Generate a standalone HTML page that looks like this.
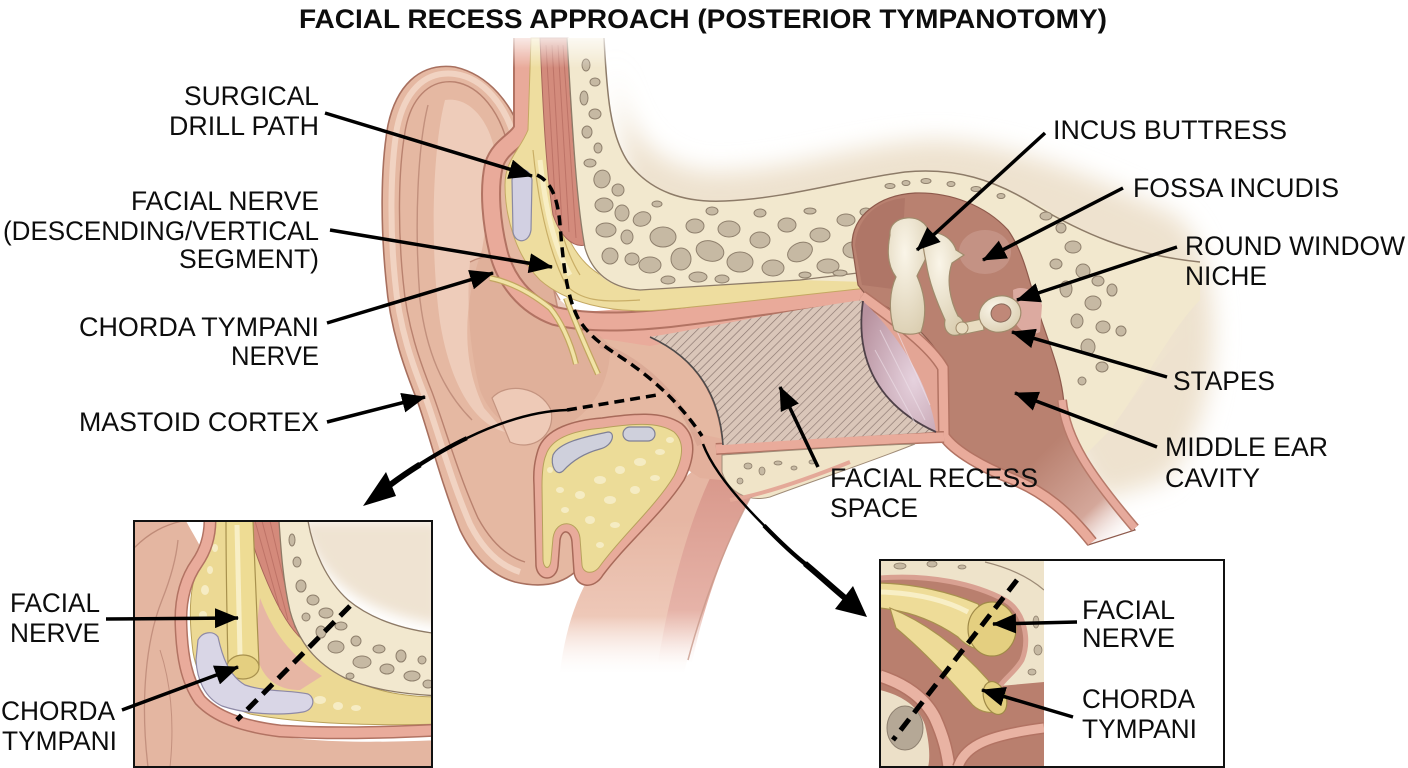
<!DOCTYPE html>
<html><head><meta charset="utf-8">
<style>
html,body{margin:0;padding:0;background:#fff;}
svg{display:block;}
text{font-family:"Liberation Sans",Arial,sans-serif;fill:#0d0d0d;font-size:26.5px;}
</style></head>
<body>
<svg width="1408" height="768" viewBox="0 0 1408 768" xmlns="http://www.w3.org/2000/svg">
<defs>
  <filter id="blur12" x="-20%" y="-20%" width="140%" height="140%"><feGaussianBlur stdDeviation="12"/></filter>
  <filter id="blur6" x="-20%" y="-20%" width="140%" height="140%"><feGaussianBlur stdDeviation="6"/></filter>
  <pattern id="hatch" width="6" height="6" patternUnits="userSpaceOnUse" patternTransform="rotate(45)">
    <rect width="6" height="6" fill="#dac6b9"/>
    <line x1="0" y1="0" x2="0" y2="6" stroke="#8a766f" stroke-width="1.3"/>
  </pattern>
  <marker id="ah" markerUnits="userSpaceOnUse" markerWidth="24" markerHeight="20" refX="23" refY="10" orient="auto">
    <path d="M0,0 L24,10 L0,20 Z" fill="#000"/>
  </marker>
  <linearGradient id="neckGrad" gradientUnits="userSpaceOnUse" x1="0" y1="520" x2="0" y2="680">
    <stop offset="0" stop-color="#e6b6a3"/>
    <stop offset="0.6" stop-color="#eec8b8"/>
    <stop offset="1" stop-color="#ffffff" stop-opacity="0"/>
  </linearGradient>
  <linearGradient id="muscGrad" gradientUnits="userSpaceOnUse" x1="0" y1="470" x2="0" y2="670">
    <stop offset="0" stop-color="#d8978a"/>
    <stop offset="0.7" stop-color="#e6b3a8"/>
    <stop offset="1" stop-color="#ffffff" stop-opacity="0"/>
  </linearGradient>
  <linearGradient id="cavGrad" gradientUnits="userSpaceOnUse" x1="1040" y1="455" x2="1125" y2="545">
    <stop offset="0" stop-color="#b98170"/>
    <stop offset="0.6" stop-color="#d4a79a"/>
    <stop offset="1" stop-color="#ffffff" stop-opacity="0"/>
  </linearGradient>
  <linearGradient id="boneGrad" gradientUnits="userSpaceOnUse" x1="1050" y1="0" x2="1200" y2="0">
    <stop offset="0" stop-color="#f2e8ce"/>
    <stop offset="1" stop-color="#f2e8ce" stop-opacity="0"/>
  </linearGradient>
  <linearGradient id="topFade" x1="0" y1="0" x2="0" y2="1">
    <stop offset="0" stop-color="#fff" stop-opacity="1"/>
    <stop offset="1" stop-color="#fff" stop-opacity="0"/>
  </linearGradient>
  <radialGradient id="ossGrad" cx="0.4" cy="0.3" r="0.8">
    <stop offset="0" stop-color="#faf5e8"/>
    <stop offset="1" stop-color="#d9ccae"/>
  </radialGradient>
  <radialGradient id="tmGrad" cx="0.7" cy="0.6" r="0.8">
    <stop offset="0" stop-color="#e6d2de"/>
    <stop offset="1" stop-color="#b8929f"/>
  </radialGradient>
  <clipPath id="clipL"><rect x="134" y="521" width="298" height="246"/></clipPath>
  <clipPath id="clipR"><rect x="880" y="560" width="164" height="207"/></clipPath>
</defs>

<rect width="1408" height="768" fill="#fff"/>

<!-- background glow -->
<path d="M612,45 C620,130 650,165 710,172 C790,172 850,145 930,140 C1010,140 1100,180 1175,215 C1230,260 1225,420 1165,480 L1100,500 L1000,320 L640,300 Z" fill="#eee2cf" filter="url(#blur12)"/>

<!-- neck band -->
<path d="M592,572 C625,530 665,495 705,460 L765,472 C733,524 706,592 684,672 L560,672 C565,632 575,600 592,572 Z" fill="url(#neckGrad)"/>
<path d="M712,474 L758,482 C730,534 707,592 692,662 L658,662 C670,592 688,524 712,474 Z" fill="url(#muscGrad)"/>
<path d="M765,472 C733,524 706,592 688,660" fill="none" stroke="#c8998a" stroke-width="1.5" opacity="0.8"/>

<!-- pinna / skin base -->
<path d="M523,137 C512,105 490,75 455,67 C418,62 396,88 388,125 C380,170 381,230 386,280 C390,330 405,370 417,400 C428,430 440,480 460,530 C472,555 490,575 515,582 C540,588 560,585 575,572 L610,530 L690,455 L723,447 C720,400 700,360 650,336 L560,320 Z" fill="#e5b8a2" stroke="#a8705f" stroke-width="1.6"/>
<!-- extra skin fills to close gaps -->
<path d="M672,428 L728,440 L775,468 L762,484 L700,478 L676,462 Z" fill="#e3b09c"/>
<path d="M560,314 L864,289 L868,304 L650,346 L598,338 Z" fill="#e9ab9b"/>
<!-- helix highlight -->
<path d="M515,140 C506,106 484,78 455,74 C423,70 404,94 397,128 C390,170 390,230 395,280 C399,328 413,366 425,396 C437,428 450,478 470,524 C482,548 498,565 520,572" fill="none" stroke="#f1d3c2" stroke-width="6"/>
<path d="M508,146 C500,112 480,86 455,82 C428,79 410,100 405,132 C398,172 398,230 403,280 C407,326 420,362 432,392 C444,424 458,474 478,518 C490,540 505,556 525,562" fill="none" stroke="#b9826f" stroke-width="1.4"/>
<!-- antihelix / concha -->
<path d="M445,100 C470,96 492,122 496,160 L482,250 C464,300 460,360 484,408 L505,432 C474,424 450,384 440,322 C430,252 432,150 445,100 Z" fill="#f0d3c1" opacity="0.75"/>
<path d="M428,105 C418,145 414,222 420,300 C426,350 442,390 472,420" fill="none" stroke="#c2907d" stroke-width="1.4"/>
<path d="M470,262 C500,246 540,262 560,300 L610,345 C612,385 585,425 548,432 C512,437 490,416 480,390 C470,352 466,302 470,262 Z" fill="#dca993" opacity="0.55"/>
<path d="M470,262 C500,246 540,262 560,300" fill="none" stroke="#c08b78" stroke-width="1.3"/>
<path d="M492,398 C506,382 540,386 551,410 C556,436 532,452 510,442 Z" fill="#eecab7" stroke="#c49480" stroke-width="1.2"/>
<path d="M600,345 C640,360 680,395 700,445" fill="none" stroke="#d3a08d" stroke-width="6" opacity="0.6"/>

<!-- pink skin band -->
<path d="M523,38 L523,128 C520,140 500,145 494,165 C488,190 492,225 498,250 C505,280 525,305 555,316 C590,324 630,322 670,318 C740,310 800,300 862,293" fill="none" stroke="#b27363" stroke-width="20"/>
<path d="M523,38 L523,128 C520,140 500,145 494,165 C488,190 492,225 498,250 C505,280 525,305 555,316 C590,324 630,322 670,318 C740,310 800,300 862,293" fill="none" stroke="#e9aa9a" stroke-width="16"/>

<!-- yellow band -->
<path d="M531,38 L542,38 C545,110 550,180 565,230 C580,268 605,283 640,288 L866,268 L868,288 C800,295 720,305 660,310 C610,314 565,302 540,280 C515,255 505,215 505,185 C505,160 520,150 528,130 Z" fill="#eedd9f" stroke="#c4a862" stroke-width="1"/>
<path d="M533,150 C538,200 548,250 566,285 C580,300 600,303 640,300" fill="none" stroke="#c9ae66" stroke-width="1.2"/>
<path d="M548,150 C553,200 561,245 580,275" fill="none" stroke="#c9ae66" stroke-width="1.2"/>
<path d="M540,160 C545,205 553,245 570,275" fill="none" stroke="#f8eec4" stroke-width="5"/>
<!-- lilac blob -->
<path d="M512,180 C514,166 530,166 532,180 L531,230 C529,244 515,244 513,232 Z" fill="#d2d0e2" stroke="#8b89a2" stroke-width="1.2"/>
<!-- chorda strands -->
<path d="M490,278 C510,282 530,292 550,308 C560,320 570,340 576,364" fill="none" stroke="#c2a660" stroke-width="6"/>
<path d="M490,278 C510,282 530,292 550,308 C560,320 570,340 576,364" fill="none" stroke="#f1e3a6" stroke-width="3.5"/>
<path d="M566,298 C574,320 585,345 598,374" fill="none" stroke="#c2a660" stroke-width="6"/>
<path d="M566,298 C574,320 585,345 598,374" fill="none" stroke="#f1e3a6" stroke-width="3.5"/>

<!-- muscle -->
<path d="M540,38 L568,38 C570,110 575,180 585,245 C572,248 560,235 553,215 C546,170 543,110 540,38 Z" fill="#d38b7c" stroke="#a8665a" stroke-width="1"/>
<g stroke="#b56a5f" stroke-width="1" opacity="0.7">
  <line x1="546" y1="45" x2="556" y2="215"/>
  <line x1="552" y1="45" x2="562" y2="225"/>
  <line x1="558" y1="45" x2="569" y2="232"/>
  <line x1="563" y1="45" x2="576" y2="238"/>
</g>

<!-- bone -->
<path d="M567,38 L604,38 C607,95 610,135 628,162 C650,192 685,203 725,201 C790,198 845,180 905,172 C955,167 995,180 1035,205 C1080,232 1130,255 1200,262 L1200,300 C1170,330 1140,390 1110,430 L1085,455 L1060,420 L980,460 L900,300 L866,282 L800,280 L720,285 L640,290 C610,288 592,275 585,248 C576,200 572,120 567,38 Z" fill="#f2e8ce"/>
<path d="M1040,205 C1080,232 1130,255 1210,262 L1210,320 C1170,340 1140,390 1110,430 L1085,455 L1050,300 Z" fill="url(#boneGrad)"/>
<path d="M604,38 C607,95 610,135 628,162 C650,192 685,203 725,201 C790,198 845,180 905,172 C955,167 995,180 1035,205 C1080,232 1130,255 1200,262" fill="none" stroke="#8d7b68" stroke-width="1.5"/>
<path d="M567,38 C572,120 576,200 585,248 C592,272 610,288 640,290 L720,285 L800,280 L866,272" fill="none" stroke="#8d7b68" stroke-width="1.3"/>
<g fill="#c6b9a3" stroke="#8f806d" stroke-width="1">
  <ellipse cx="586" cy="65" rx="4" ry="6"/><ellipse cx="595" cy="82" rx="5" ry="4"/><ellipse cx="584" cy="98" rx="4" ry="7"/>
  <ellipse cx="595" cy="114" rx="6" ry="5"/><ellipse cx="587" cy="132" rx="5" ry="6"/><ellipse cx="598" cy="148" rx="4" ry="5"/>
  <ellipse cx="590" cy="163" rx="6" ry="4"/><ellipse cx="602" cy="179" rx="8" ry="9" transform="rotate(20 602 179)"/>
  <ellipse cx="618" cy="190" rx="6" ry="6"/><ellipse cx="604" cy="205" rx="9" ry="7"/><ellipse cx="622" cy="213" rx="7" ry="8"/>
  <ellipse cx="606" cy="230" rx="10" ry="7"/><ellipse cx="627" cy="237" rx="6" ry="7"/><ellipse cx="610" cy="256" rx="8" ry="8"/>
  <ellipse cx="632" cy="259" rx="7" ry="6"/><ellipse cx="642" cy="219" rx="9" ry="7" transform="rotate(-20 642 219)"/>
  <ellipse cx="663" cy="237" rx="13" ry="10"/><ellipse cx="650" cy="265" rx="11" ry="8"/><ellipse cx="681" cy="259" rx="10" ry="11"/>
  <ellipse cx="695" cy="226" rx="9" ry="7"/><ellipse cx="710" cy="251" rx="14" ry="10" transform="rotate(15 710 251)"/>
  <ellipse cx="698" cy="277" rx="9" ry="5"/><ellipse cx="729" cy="229" rx="11" ry="8"/><ellipse cx="740" cy="262" rx="13" ry="10"/>
  <ellipse cx="760" cy="240" rx="10" ry="8"/><ellipse cx="773" cy="268" rx="11" ry="8"/><ellipse cx="787" cy="225" rx="9" ry="7"/>
  <ellipse cx="800" cy="252" rx="13" ry="9" transform="rotate(-25 800 252)"/><ellipse cx="820" cy="235" rx="10" ry="7"/>
  <ellipse cx="828" cy="266" rx="11" ry="7"/><ellipse cx="846" cy="220" rx="9" ry="6"/><ellipse cx="853" cy="250" rx="10" ry="8"/>
  <ellipse cx="870" cy="236" rx="7" ry="6"/><ellipse cx="866" cy="212" rx="6" ry="4"/><ellipse cx="760" cy="213" rx="6" ry="4"/>
  <ellipse cx="712" cy="211" rx="6" ry="4"/><ellipse cx="668" cy="280" rx="7" ry="4"/><ellipse cx="722" cy="279" rx="7" ry="4"/>
  <ellipse cx="805" cy="275" rx="6" ry="3"/><ellipse cx="840" cy="273" rx="7" ry="3"/><ellipse cx="880" cy="224" rx="5" ry="4"/>
  <ellipse cx="657" cy="204" rx="5" ry="3"/><ellipse cx="810" cy="211" rx="6" ry="3"/>
  <ellipse cx="890" cy="186" rx="5" ry="2.5"/><ellipse cx="906" cy="183" rx="4" ry="2.5"/><ellipse cx="926" cy="181" rx="5" ry="2.5"/>
  <ellipse cx="951" cy="184" rx="4" ry="2.5"/><ellipse cx="976" cy="189" rx="5" ry="2.5"/><ellipse cx="1001" cy="196" rx="4" ry="2.5"/>
  <ellipse cx="1046" cy="216" rx="6" ry="4"/><ellipse cx="1061" cy="228" rx="5" ry="5"/><ellipse cx="1073" cy="247" rx="8" ry="6"/>
  <ellipse cx="1056" cy="264" rx="6" ry="5"/><ellipse cx="1083" cy="271" rx="7" ry="7"/><ellipse cx="1066" cy="289" rx="6" ry="8"/>
  <ellipse cx="1093" cy="303" rx="8" ry="7"/><ellipse cx="1103" cy="327" rx="7" ry="6"/><ellipse cx="1077" cy="321" rx="6" ry="7"/>
  <ellipse cx="1088" cy="347" rx="7" ry="8"/><ellipse cx="1102" cy="367" rx="6" ry="5"/><ellipse cx="1112" cy="290" rx="5" ry="6"/>
  <ellipse cx="1121" cy="331" rx="5" ry="5"/><ellipse cx="1082" cy="381" rx="4" ry="4"/><ellipse cx="1098" cy="281" rx="6" ry="5"/>
</g>
<rect x="470" y="28" width="180" height="40" fill="url(#topFade)"/>

<!-- middle ear cavity -->
<path d="M852,245 C852,215 880,195 915,193 C950,192 985,205 1008,230 C1022,250 1028,275 1035,300 C1045,335 1062,370 1064,405 C1066,435 1085,465 1110,500 L1135,530 L1088,545 C1060,505 1040,485 1005,476 C975,468 955,455 948,435 L945,365 C930,335 900,310 870,300 L858,285 Z" fill="url(#cavGrad)" stroke="#8e5a4c" stroke-width="1.2"/>
<path d="M855,245 C858,215 880,200 905,198 L900,290 L862,285 Z" fill="#a86f60" opacity="0.6"/>
<ellipse cx="985" cy="252" rx="26" ry="22" fill="#c99a8d" opacity="0.7"/>
<path d="M1013,290 C1024,284 1038,292 1042,305 L1040,332 C1030,337 1019,332 1014,320 Z" fill="#dcaaa0"/>
<path d="M1062,400 C1066,440 1090,475 1135,528" fill="none" stroke="#b77a6a" stroke-width="10"/>
<path d="M1062,400 C1066,440 1090,475 1135,528" fill="none" stroke="#e6aa9c" stroke-width="7"/>

<!-- fill between TM and pink band -->
<path d="M860,294 C895,318 930,345 945,368 L946,438 L930,436 C905,410 890,360 860,300 Z" fill="#e3a595"/>
<!-- pink bands around TM/floor -->
<path d="M862,296 C895,320 930,345 943,368 L944,436 C955,452 985,468 1010,478 C1045,492 1068,512 1092,542" fill="none" stroke="#b27363" stroke-width="12"/>
<path d="M862,296 C895,320 930,345 943,368 L944,436 C955,452 985,468 1010,478 C1045,492 1068,512 1092,542" fill="none" stroke="#e9ab9b" stroke-width="9"/>
<path d="M716,449 C800,444 880,439 944,437" fill="none" stroke="#b27363" stroke-width="12"/>
<path d="M716,449 C800,444 880,439 944,437" fill="none" stroke="#e9ab9b" stroke-width="9"/>

<!-- hatched facial recess -->
<path d="M650,337 C720,325 790,310 862,300 C858,350 870,400 935,432 C870,436 790,440 723,445 C720,400 700,360 650,337 Z" fill="url(#hatch)"/>
<path d="M650,337 C700,360 720,400 723,445" fill="none" stroke="#4e4a4a" stroke-width="1.6"/>
<!-- tympanic membrane -->
<path d="M863,301 C856,350 870,402 936,432 C931,392 906,342 863,301 Z" fill="url(#tmGrad)"/>
<path d="M863,301 C856,350 870,402 936,432" fill="none" stroke="#4f4148" stroke-width="1.8"/>
<path d="M880,330 L925,420 M875,350 L915,423 M892,320 L930,405" stroke="#efe2ea" stroke-width="1" opacity="0.6"/>

<!-- ossicles -->
<path d="M890,235 C888,214 925,211 929,233 C933,252 922,264 917,276 C924,292 928,312 921,332 C912,336 900,334 894,330 C888,310 890,290 896,277 C887,265 887,250 890,235 Z" fill="url(#ossGrad)" stroke="#a08b6c" stroke-width="1.2"/>
<path d="M924,236 C934,228 952,236 956,250 L964,255 L952,263 C946,280 950,300 958,316 C966,320 966,332 958,335 C949,337 943,330 945,320 C936,300 929,282 926,262 C924,252 922,244 924,236 Z" fill="url(#ossGrad)" stroke="#a08b6c" stroke-width="1.2"/>
<path d="M958,324 L982,319 L984,330 L960,335 Z" fill="#e8dcc0" stroke="#a08b6c" stroke-width="1"/>
<circle cx="962" cy="328" r="6" fill="#e8dcc0" stroke="#a08b6c" stroke-width="1"/>
<ellipse cx="1000" cy="314" rx="21" ry="18" transform="rotate(-15 1000 314)" fill="url(#ossGrad)" stroke="#a08b6c" stroke-width="1.2"/>
<ellipse cx="1001" cy="313" rx="10" ry="9" transform="rotate(-15 1001 313)" fill="#c08878" stroke="#8a6a5a" stroke-width="1"/>

<!-- canal floor bone tongue -->
<path d="M722,455 C780,451 850,446 915,444 C870,462 810,482 770,497 C745,503 728,490 722,472 Z" fill="#f0e4c8" stroke="#a08c78" stroke-width="1"/>
<g fill="#c6b9a3" stroke="#8f806d" stroke-width="0.8">
  <ellipse cx="748" cy="466" rx="4" ry="3"/><ellipse cx="762" cy="471" rx="3" ry="4"/><ellipse cx="778" cy="463" rx="4" ry="2"/>
  <ellipse cx="740" cy="481" rx="3" ry="3"/><ellipse cx="794" cy="468" rx="3" ry="2"/><ellipse cx="812" cy="462" rx="3" ry="2"/>
</g>
<path d="M730,500 C760,495 800,482 850,462" fill="none" stroke="#e4a898" stroke-width="4"/>

<!-- mastoid yellow region -->
<path d="M538,450 C545,428 575,420 602,418 C632,414 662,410 682,424 C698,438 694,460 684,480 C664,512 625,545 603,575 C594,590 576,588 574,572 L572,542 C571,530 562,528 560,540 L558,566 C556,582 538,582 536,566 L534,485 C533,470 535,460 538,450 Z" fill="#e8ab9b" stroke="#a86a5a" stroke-width="1.5"/>
<path d="M546,455 C552,436 578,430 603,428 C630,424 658,421 674,432 C686,443 682,460 674,476 C656,506 620,538 600,566 C594,575 583,574 582,565 L580,538 C578,520 556,518 553,538 L551,560 C550,570 544,570 543,560 L542,486 C542,472 543,462 546,455 Z" fill="#ecdc98" stroke="#b7a15c" stroke-width="1"/>
<g fill="#f7eec8" opacity="0.9">
  <ellipse cx="600" cy="480" rx="6" ry="4"/><ellipse cx="620" cy="470" rx="5" ry="4"/><ellipse cx="640" cy="462" rx="6" ry="4"/>
  <ellipse cx="660" cy="452" rx="5" ry="3"/><ellipse cx="580" cy="495" rx="5" ry="4"/><ellipse cx="610" cy="500" rx="6" ry="4"/>
  <ellipse cx="635" cy="490" rx="5" ry="4"/><ellipse cx="655" cy="478" rx="5" ry="3"/><ellipse cx="560" cy="490" rx="4" ry="3"/>
  <ellipse cx="590" cy="520" rx="5" ry="4"/><ellipse cx="615" cy="525" rx="5" ry="3"/><ellipse cx="565" cy="510" rx="4" ry="3"/>
  <ellipse cx="600" cy="545" rx="4" ry="3"/><ellipse cx="550" cy="470" rx="3" ry="3"/><ellipse cx="670" cy="440" rx="4" ry="3"/>
</g>
<path d="M553,455 C560,441 590,436 608,432 C616,432 613,446 600,449 C585,453 572,461 563,471 C556,477 550,465 553,455 Z" fill="#cfd0dc" stroke="#7f8096" stroke-width="1.2"/>
<rect x="623" y="427" width="32" height="14" rx="7" fill="#cfd0dc" stroke="#7f8096" stroke-width="1.2"/>

<!-- dashed drill path -->
<path d="M537,175 C552,182 558,200 560,225 C563,260 566,295 578,318 C592,342 615,352 635,367 C660,385 685,410 702,436" fill="none" stroke="#000" stroke-width="3.5" stroke-dasharray="10 6"/>
<path d="M567,410 L657,395" fill="none" stroke="#000" stroke-width="3.5" stroke-dasharray="10 6"/>

<!-- curved arrows -->
<path d="M567,410 C533.5,411 498.25,423 466.9,438.1" fill="none" stroke="#000" stroke-width="2.5"/>
<path d="M466.9,438.1 C448,447 430,458 416,467" fill="none" stroke="#000" stroke-width="4.2"/>
<path d="M420,464.5 C408,472 398,479 390,485" fill="none" stroke="#000" stroke-width="6"/>
<path d="M363,506 L386,472 L396,496 Z" fill="#000"/>
<path d="M703,444 C712.5,469.5 738.4,500 766.7,528.1" fill="none" stroke="#000" stroke-width="2.5"/>
<path d="M764,525.5 C780,542 795,556 808,566" fill="none" stroke="#000" stroke-width="4.2"/>
<path d="M805,563.5 C820,576 833,588 845,598" fill="none" stroke="#000" stroke-width="6"/>
<path d="M867,617 L835,609 L853,586 Z" fill="#000"/>

<!-- label arrows main -->
<g stroke="#000" stroke-width="3.5" fill="none" marker-end="url(#ah)">
  <line x1="325" y1="113" x2="532" y2="176"/>
  <line x1="330" y1="230" x2="552" y2="267"/>
  <line x1="327" y1="323" x2="493" y2="273"/>
  <line x1="327" y1="422" x2="425" y2="397"/>
  <line x1="1045" y1="133" x2="917" y2="250"/>
  <line x1="1123" y1="188" x2="983" y2="260"/>
  <line x1="1177" y1="247" x2="1017" y2="300"/>
  <line x1="1167" y1="377" x2="1012" y2="332"/>
  <line x1="1157" y1="447" x2="1015" y2="393"/>
  <line x1="818" y1="467" x2="780" y2="387"/>
</g>

<!-- LEFT INSET -->
<g clip-path="url(#clipL)">
  <rect x="134" y="521" width="298" height="246" fill="#fff"/>
  <path d="M300,521 C320,580 360,612 440,625 L440,521 Z" fill="#efe3d2" filter="url(#blur6)"/>
  <!-- ear skin left -->
  <path d="M134,521 L186,521 C192,532 200,545 205,556 C190,572 180,592 180,620 C180,660 190,690 215,715 C250,740 330,745 440,740 L440,770 L134,770 Z" fill="#e4b6a1"/>
  <path d="M134,548 C150,532 165,525 182,521" fill="none" stroke="#bf8b78" stroke-width="1.3"/>
  <path d="M148,767 C140,700 146,640 162,600 C170,580 176,560 178,540" fill="none" stroke="#c3907e" stroke-width="1.3"/>
  <path d="M160,650 C170,680 175,720 170,767" fill="none" stroke="#c3907e" stroke-width="1"/>
  <!-- yellow region -->
  <path d="M214,521 L282,521 C287,580 300,630 330,665 C360,690 400,697 440,697 L440,724 C380,726 300,724 250,714 C215,702 198,682 193,652 C188,612 190,582 200,565 C210,552 214,536 214,521 Z" fill="#ecd994" stroke="#b9a05a" stroke-width="1"/>
  <g fill="#f6ecc4">
    <ellipse cx="205" cy="590" rx="4" ry="5"/><ellipse cx="203" cy="615" rx="4" ry="4"/><ellipse cx="210" cy="570" rx="3" ry="4"/>
    <ellipse cx="320" cy="700" rx="6" ry="4"/><ellipse cx="338" cy="706" rx="5" ry="4"/><ellipse cx="356" cy="708" rx="5" ry="3"/>
    <ellipse cx="215" cy="548" rx="3" ry="4"/>
  </g>
  <!-- pink skin band -->
  <path d="M210,520 C210,535 206,550 197,563 C185,580 180,600 181,625 C182,655 186,680 200,700 C215,716 240,726 280,731 C330,734 380,733 440,730" fill="none" stroke="#b27363" stroke-width="13"/>
  <path d="M210,520 C210,535 206,550 197,563 C185,580 180,600 181,625 C182,655 186,680 200,700 C215,716 240,726 280,731 C330,734 380,733 440,730" fill="none" stroke="#e9ab9b" stroke-width="10"/>
  <!-- pink inner region -->
  <path d="M260,598 C272,630 290,656 322,676 L300,690 C270,690 256,670 255,640 Z" fill="#e7b6a4"/>
  <!-- muscle -->
  <path d="M247,521 L279,521 C283,570 291,610 306,642 C290,632 275,602 263,572 C255,552 250,536 247,521 Z" fill="#d48a7b" stroke="#a8665a" stroke-width="1"/>
  <g stroke="#b56a5f" stroke-width="1" opacity="0.7">
    <line x1="255" y1="521" x2="280" y2="610"/><line x1="262" y1="521" x2="288" y2="620"/><line x1="270" y1="521" x2="295" y2="628"/>
  </g>
  <!-- bone -->
  <path d="M279,521 L308,521 C313,550 326,580 348,600 C372,620 405,630 440,634 L440,696 C400,694 370,689 345,678 C315,663 298,641 290,611 C283,581 281,551 279,521 Z" fill="#f2e8cf" stroke="#8d7a66" stroke-width="1.3"/>
  <g fill="#c6b9a3" stroke="#8f806d" stroke-width="1">
    <ellipse cx="292" cy="540" rx="3" ry="6"/><ellipse cx="297" cy="562" rx="4" ry="5"/><ellipse cx="301" cy="586" rx="5" ry="6"/>
    <ellipse cx="313" cy="600" rx="6" ry="5"/><ellipse cx="306" cy="617" rx="4" ry="4"/><ellipse cx="326" cy="613" rx="7" ry="5"/>
    <ellipse cx="321" cy="632" rx="5" ry="6"/><ellipse cx="341" cy="626" rx="6" ry="4"/><ellipse cx="336" cy="647" rx="8" ry="6"/>
    <ellipse cx="356" cy="641" rx="5" ry="5"/><ellipse cx="362" cy="662" rx="9" ry="6"/><ellipse cx="379" cy="649" rx="6" ry="4"/>
    <ellipse cx="387" cy="669" rx="7" ry="5"/><ellipse cx="401" cy="656" rx="5" ry="6"/><ellipse cx="412" cy="676" rx="8" ry="5"/>
    <ellipse cx="422" cy="660" rx="4" ry="4"/><ellipse cx="428" cy="684" rx="5" ry="4"/><ellipse cx="350" cy="676" rx="4" ry="3"/>
  </g>
  <!-- facial nerve -->
  <path d="M226,521 L253,521 C255,570 257,620 259,665 L228,666 C227,620 226,570 226,521 Z" fill="#eedc94" stroke="#a8914e" stroke-width="1.2"/>
  <path d="M237,525 L240,655" stroke="#f8efc6" stroke-width="5"/>
  <ellipse cx="243" cy="667" rx="16" ry="12" fill="#e4cf80" stroke="#a8914e" stroke-width="1.2"/>
  <!-- lilac cavity -->
  <path d="M198,640 C202,632 213,630 218,637 C222,655 228,675 245,685 C265,692 290,690 308,694 C316,698 314,710 303,712 C280,716 245,714 222,706 C205,698 197,680 196,660 Z" fill="#d9d6e6" stroke="#8e89a6" stroke-width="1.2"/>
  <path d="M350,606 L237,720" stroke="#000" stroke-width="5" stroke-dasharray="14 8"/>
</g>
<rect x="134" y="521" width="298" height="246" fill="none" stroke="#111" stroke-width="2"/>
<g stroke="#000" stroke-width="3.5" fill="none" marker-end="url(#ah)">
  <line x1="106" y1="619" x2="238" y2="618"/>
  <line x1="122" y1="710" x2="238" y2="667"/>
</g>

<!-- RIGHT INSET -->
<rect x="880" y="560" width="344" height="207" fill="#fff"/>
<g clip-path="url(#clipR)">
  <rect x="880" y="560" width="164" height="207" fill="#eee3ca"/>
  <path d="M985,562 C1010,568 1030,578 1044,590" fill="none" stroke="#9c8a76" stroke-width="1.2"/>
  <g fill="#c6b9a3" stroke="#8f806d" stroke-width="0.8">
    <ellipse cx="900" cy="566" rx="6" ry="3"/><ellipse cx="932" cy="564" rx="5" ry="3"/><ellipse cx="962" cy="567" rx="4" ry="2"/>
    <ellipse cx="1036" cy="622" rx="3" ry="6"/><ellipse cx="1038" cy="650" rx="4" ry="5"/><ellipse cx="1032" cy="672" rx="4" ry="3"/>
  </g>
  <path d="M880,578 C930,574 975,584 1005,600 C1025,612 1030,640 1022,660 C1015,672 1005,678 1000,686 L1044,682 L1044,767 L880,767 Z" fill="#b97f6e"/>
  <path d="M880,578 C930,574 975,584 1005,600 C1025,612 1030,640 1022,660 C1015,672 1005,678 1000,686" fill="none" stroke="#d9a192" stroke-width="5"/>
  <!-- lower left pink bands and bone -->
  <path d="M880,690 C900,695 918,705 925,725 C930,745 930,760 928,767 L880,767 Z" fill="#ece0c8"/>
  <ellipse cx="905" cy="728" rx="18" ry="22" fill="#b5a896" stroke="#8e8070" stroke-width="1"/>
  <path d="M880,676 C905,684 925,698 935,718 C944,738 947,752 949,767" fill="none" stroke="#b27363" stroke-width="14"/>
  <path d="M880,676 C905,684 925,698 935,718 C944,738 947,752 949,767" fill="none" stroke="#e9b3a3" stroke-width="11"/>
  <path d="M958,767 C965,745 990,735 1044,728" fill="none" stroke="#b27363" stroke-width="12"/>
  <path d="M958,767 C965,745 990,735 1044,728" fill="none" stroke="#e9b3a3" stroke-width="9"/>
  <!-- facial nerve -->
  <path d="M880,583 C915,584 950,592 978,604 L1000,642 C985,654 970,650 958,637 C935,621 910,611 880,608 Z" fill="#eedc98" stroke="#a8914e" stroke-width="1.2"/>
  <path d="M880,592 C915,593 945,600 968,612" fill="none" stroke="#f8efc6" stroke-width="5"/>
  <ellipse cx="992" cy="629" rx="24" ry="27" fill="#e4cf80" stroke="#a08a48" stroke-width="1.2"/>
  <!-- chorda -->
  <path d="M890,608 C925,622 960,648 988,680 L1002,710 C988,716 976,710 970,702 C950,680 925,652 896,628 Z" fill="#eedc98" stroke="#a8914e" stroke-width="1.2"/>
  <ellipse cx="995" cy="698" rx="11" ry="17" transform="rotate(-20 995 698)" fill="#e4cf80" stroke="#a08a48" stroke-width="1.2"/>
  <path d="M1017,580 L893,740" stroke="#000" stroke-width="5" stroke-dasharray="14 8"/>
</g>
<rect x="880" y="560" width="344" height="207" fill="none" stroke="#111" stroke-width="2"/>
<g stroke="#000" stroke-width="3.5" fill="none" marker-end="url(#ah)">
  <line x1="1077" y1="622" x2="993" y2="624"/>
  <line x1="1073" y1="717" x2="982" y2="690"/>
</g>

<!-- TEXT -->
<text x="703" y="28" text-anchor="middle" font-weight="bold" style="font-size:27px" textLength="808" lengthAdjust="spacingAndGlyphs">FACIAL RECESS APPROACH (POSTERIOR TYMPANOTOMY)</text>

<g text-anchor="end">
  <text x="319" y="105" textLength="135" lengthAdjust="spacingAndGlyphs">SURGICAL</text>
  <text x="319" y="135" textLength="150" lengthAdjust="spacingAndGlyphs">DRILL PATH</text>
  <text x="319" y="210" textLength="188" lengthAdjust="spacingAndGlyphs">FACIAL NERVE</text>
  <text x="319" y="240" textLength="316" lengthAdjust="spacingAndGlyphs">(DESCENDING/VERTICAL</text>
  <text x="319" y="268" textLength="140" lengthAdjust="spacingAndGlyphs">SEGMENT)</text>
  <text x="319" y="336" textLength="240" lengthAdjust="spacingAndGlyphs">CHORDA TYMPANI</text>
  <text x="319" y="365" textLength="88" lengthAdjust="spacingAndGlyphs">NERVE</text>
  <text x="319" y="431" textLength="240" lengthAdjust="spacingAndGlyphs">MASTOID CORTEX</text>
</g>

<text x="1053" y="139" textLength="234" lengthAdjust="spacingAndGlyphs">INCUS BUTTRESS</text>
<text x="1133" y="197" textLength="206" lengthAdjust="spacingAndGlyphs">FOSSA INCUDIS</text>
<text x="1185" y="255" textLength="220" lengthAdjust="spacingAndGlyphs">ROUND WINDOW</text>
<text x="1185" y="285" textLength="82" lengthAdjust="spacingAndGlyphs">NICHE</text>
<text x="1173" y="390" textLength="102" lengthAdjust="spacingAndGlyphs">STAPES</text>
<text x="1165" y="456" textLength="163" lengthAdjust="spacingAndGlyphs">MIDDLE EAR</text>
<text x="1165" y="487" textLength="95" lengthAdjust="spacingAndGlyphs">CAVITY</text>
<text x="830" y="487" textLength="208" lengthAdjust="spacingAndGlyphs">FACIAL RECESS</text>
<text x="830" y="517">SPACE</text>

<text x="10" y="612" textLength="90" lengthAdjust="spacingAndGlyphs">FACIAL</text>
<text x="10" y="642" textLength="90" lengthAdjust="spacingAndGlyphs">NERVE</text>
<text x="1" y="720" textLength="114" lengthAdjust="spacingAndGlyphs">CHORDA</text>
<text x="2" y="750" textLength="115" lengthAdjust="spacingAndGlyphs">TYMPANI</text>

<text x="1082" y="619" textLength="93" lengthAdjust="spacingAndGlyphs">FACIAL</text>
<text x="1082" y="647" textLength="93" lengthAdjust="spacingAndGlyphs">NERVE</text>
<text x="1082" y="708" textLength="113" lengthAdjust="spacingAndGlyphs">CHORDA</text>
<text x="1082" y="738" textLength="115" lengthAdjust="spacingAndGlyphs">TYMPANI</text>
</svg>
</body></html>
